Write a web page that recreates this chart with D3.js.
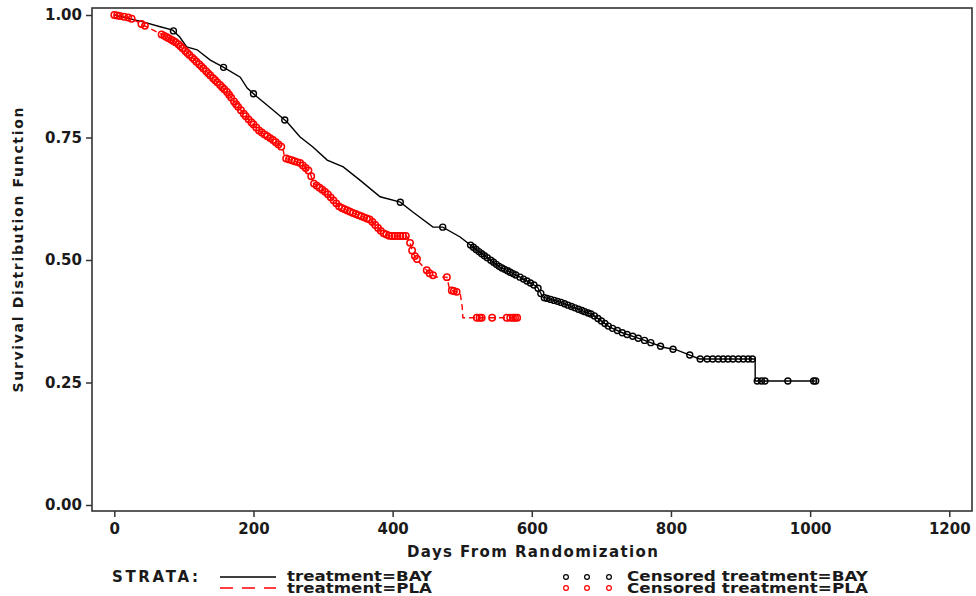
<!DOCTYPE html>
<html>
<head>
<meta charset="utf-8">
<script src="https://cdn.jsdelivr.net/npm/d3@7"></script>
<style>
  html, body { margin: 0; padding: 0; background: #fff; }
  svg { display: block; font-family: "DejaVu Sans", sans-serif; font-weight: bold; }
</style>
</head>
<body>
<div id="chart"></div>
<script>
// Kaplan-Meier estimates: [day, survival]
const bayCurve = [
  [0, 1.000], [41, 0.986], [66, 0.976], [84, 0.969], [94, 0.955], [104, 0.935],
  [119, 0.929], [138, 0.908], [156, 0.894], [181, 0.873], [191, 0.851], [205, 0.833],
  [228, 0.806], [248, 0.782], [267, 0.751], [285, 0.731], [306, 0.704], [329, 0.690],
  [353, 0.663], [382, 0.629], [411, 0.618], [429, 0.598], [458, 0.567], [472, 0.567],
  [497, 0.547], [525, 0.516], [554, 0.486], [583, 0.465], [608, 0.445], [616, 0.424],
  [641, 0.414], [659, 0.404], [688, 0.388], [712, 0.363], [731, 0.351], [760, 0.337],
  [789, 0.322], [809, 0.316], [827, 0.306], [841, 0.298], [921, 0.298], [921, 0.253],
  [1008, 0.253]
];
const plaCurve = [
  [0, 1.000], [23, 0.994], [41, 0.980], [70, 0.959], [90, 0.943], [104, 0.924],
  [123, 0.898], [142, 0.871], [162, 0.843], [176, 0.816], [191, 0.790], [209, 0.763],
  [228, 0.745], [242, 0.729], [245, 0.708], [267, 0.698], [281, 0.680], [286, 0.657],
  [305, 0.637], [324, 0.608], [343, 0.596], [368, 0.582], [386, 0.555], [396, 0.549],
  [420, 0.549], [425, 0.535], [429, 0.514], [439, 0.494], [453, 0.473], [463, 0.465],
  [478, 0.465], [482, 0.439], [497, 0.433], [500, 0.404], [501, 0.382], [580, 0.382]
];

// censoring times (days)
const bayCensored = [
  85, 157, 200, 245, 411, 472, 512, 516, 520, 524, 528, 532, 536, 541, 545, 549, 553,
  557, 561, 565, 569, 573, 577, 583, 588, 593, 598, 603, 609, 613, 618, 622, 627,
  632, 637, 642, 647, 652, 657, 662, 667, 672, 676, 681, 685, 690, 695, 700, 705,
  710, 716, 723, 730, 737, 745, 753, 762, 771, 785, 803, 827, 842, 852, 860, 868,
  875, 882, 889, 897, 904, 911, 917, 924, 930, 935, 968, 1005, 1008
];
const plaCensored = [
  0, 4, 8, 14, 20, 25, 39, 44, 68, 72, 75, 78, 82, 85, 88, 92, 95, 98, 102, 105,
  108, 112, 115, 118, 122, 125, 128, 132, 135, 138, 142, 145, 148, 152, 155, 158,
  162, 165, 168, 172, 175, 178, 182, 186, 189, 193, 197, 200, 204, 208, 212, 216,
  220, 224, 228, 232, 236, 240, 247, 251, 255, 259, 263, 267, 271, 275, 279, 283,
  287, 291, 295, 299, 303, 307, 311, 315, 319, 323, 327, 331, 335, 339, 343, 347,
  351, 355, 359, 363, 367, 371, 375, 379, 383, 387, 391, 395, 399, 403, 407, 411,
  415, 419, 425, 428, 432, 435, 449, 453, 458, 478, 485, 488, 492, 521, 525, 528,
  543, 564, 569, 573, 576, 579
];

const xTicks = [0, 200, 400, 600, 800, 1000, 1200];
const yTicks = [0, 0.25, 0.5, 0.75, 1];

const strataLabels = ['treatment=BAY', 'treatment=PLA'];
const censorLabels = ['Censored treatment=BAY', 'Censored treatment=PLA'];

const W = 976, H = 596;
const frame = { left: 92, top: 8, right: 972, bottom: 511 };
const ink = '#1a1a1a';

const svg = d3.select('#chart').append('svg')
  .attr('width', W)
  .attr('height', H)
  .attr('viewBox', `0 0 ${W} ${H}`);

svg.append('rect').attr('width', W).attr('height', H).attr('fill', '#fff');

const x = d3.scaleLinear().domain([0, 1200]).range([114.3, 949.3]);
const y = d3.scaleLinear().domain([0, 1]).range([505, 15]);

// value on the drawn curve at time t
function survAt(curve, t) {
  for (let i = curve.length - 1; i >= 0; i--) {
    if (curve[i][0] <= t) {
      const a = curve[i];
      const b = curve[i + 1];
      if (!b || b[0] === a[0]) return a[1];
      return a[1] + (b[1] - a[1]) * (t - a[0]) / (b[0] - a[0]);
    }
  }
  return curve[0][1];
}

// axes
const xAxis = svg.append('g')
  .attr('transform', `translate(0,${frame.bottom})`)
  .call(d3.axisBottom(x).tickValues(xTicks).tickSize(6).tickPadding(6).tickFormat(d3.format('d')));

const yAxis = svg.append('g')
  .attr('transform', `translate(${frame.left},0)`)
  .call(d3.axisLeft(y).tickValues(yTicks).tickSize(6).tickPadding(4).tickFormat(d3.format('.2f')));

[xAxis, yAxis].forEach(g => {
  g.select('.domain').remove();
  g.selectAll('line').attr('stroke', '#333').attr('stroke-width', 1.5);
  g.selectAll('text')
    .attr('fill', ink)
    .attr('font-size', 15)
    .attr('font-family', '"DejaVu Sans", sans-serif')
    .attr('font-weight', 'bold');
});

// plot frame
svg.append('rect')
  .attr('x', frame.left)
  .attr('y', frame.top)
  .attr('width', frame.right - frame.left)
  .attr('height', frame.bottom - frame.top)
  .attr('fill', 'none')
  .attr('stroke', '#333')
  .attr('stroke-width', 1.6);

// curves
const line = d3.line().x(d => x(d[0])).y(d => y(d[1]));

const plot = svg.append('g');

plot.append('path')
  .datum(bayCurve)
  .attr('d', line)
  .attr('fill', 'none')
  .attr('stroke', '#000')
  .attr('stroke-width', 1.4);

plot.append('path')
  .datum(plaCurve)
  .attr('d', line)
  .attr('fill', 'none')
  .attr('stroke', '#ff0000')
  .attr('stroke-width', 1.4)
  .attr('stroke-dasharray', '6,4');

plot.selectAll('circle.cens-pla')
  .data(plaCensored)
  .enter().append('circle')
  .attr('class', 'cens-pla')
  .attr('cx', d => x(d))
  .attr('cy', d => y(survAt(plaCurve, d)))
  .attr('r', 3.2)
  .attr('fill', 'none')
  .attr('stroke', '#ff0000')
  .attr('stroke-width', 1.5);

plot.selectAll('circle.cens-bay')
  .data(bayCensored)
  .enter().append('circle')
  .attr('class', 'cens-bay')
  .attr('cx', d => x(d))
  .attr('cy', d => y(survAt(bayCurve, d)))
  .attr('r', 3)
  .attr('fill', 'none')
  .attr('stroke', '#000')
  .attr('stroke-width', 1.4);

// axis titles
svg.append('text')
  .attr('x', 532.5)
  .attr('y', 557)
  .attr('text-anchor', 'middle')
  .attr('font-size', 15)
  .attr('fill', ink)
  .attr('textLength', 251)
  .attr('lengthAdjust', 'spacing')
  .text('Days From Randomization');

svg.append('text')
  .attr('transform', 'translate(23,250) rotate(-90)')
  .attr('text-anchor', 'middle')
  .attr('font-size', 14)
  .attr('fill', ink)
  .attr('textLength', 285)
  .attr('lengthAdjust', 'spacing')
  .text('Survival Distribution Function');

// legend
const legend = svg.append('g');

legend.append('text')
  .attr('x', 112)
  .attr('y', 582)
  .attr('font-size', 15)
  .attr('fill', ink)
  .attr('textLength', 86)
  .attr('lengthAdjust', 'spacing')
  .text('STRATA:');

const legendColors = ['#000', '#ff0000'];
const legendY = [577, 588];
const legendTextY = [581, 593];

legend.selectAll('line.key')
  .data(strataLabels)
  .enter().append('line')
  .attr('class', 'key')
  .attr('x1', 220).attr('x2', 276)
  .attr('y1', (d, i) => legendY[i]).attr('y2', (d, i) => legendY[i])
  .attr('stroke', (d, i) => legendColors[i])
  .attr('stroke-width', 1.6)
  .attr('stroke-dasharray', (d, i) => i ? '13,9' : null);

legend.selectAll('text.key')
  .data(strataLabels)
  .enter().append('text')
  .attr('class', 'key')
  .attr('x', 287)
  .attr('y', (d, i) => legendTextY[i])
  .attr('font-size', 14)
  .attr('fill', ink)
  .attr('textLength', 145)
  .attr('lengthAdjust', 'spacingAndGlyphs')
  .text(d => d);

const markerX = [566, 587, 609];
censorLabels.forEach((label, i) => {
  legend.selectAll(null)
    .data(markerX)
    .enter().append('circle')
    .attr('cx', d => d)
    .attr('cy', legendY[i])
    .attr('r', 2.4)
    .attr('fill', 'none')
    .attr('stroke', legendColors[i])
    .attr('stroke-width', 1.2);
  legend.append('text')
    .attr('x', 627)
    .attr('y', legendTextY[i])
    .attr('font-size', 14)
    .attr('fill', ink)
    .attr('textLength', 241)
    .attr('lengthAdjust', 'spacingAndGlyphs')
    .text(label);
});
</script>
</body>
</html>
